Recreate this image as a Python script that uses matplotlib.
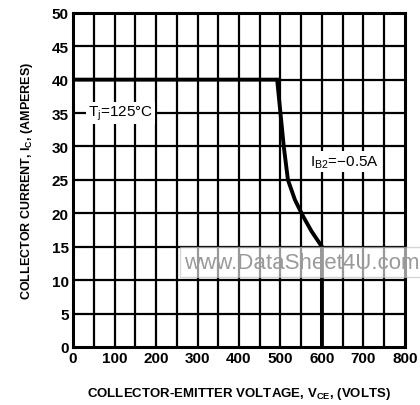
import matplotlib
matplotlib.use('Agg')
import matplotlib.pyplot as plt

plt.rcParams['font.family'] = ['Liberation Sans', 'DejaVu Sans']
plt.rcParams['mathtext.fontset'] = 'custom'
plt.rcParams['mathtext.rm'] = 'Liberation Sans'
plt.rcParams['mathtext.bf'] = 'Liberation Sans:bold'

# RBSOA curve
vce = [0, 492, 500, 508, 518, 535, 555, 575, 600, 600]
ic = [40, 40, 35, 30, 25, 22, 19.5, 17.3, 15, 0]

x_ticks = [0, 100, 200, 300, 400, 500, 600, 700, 800]
x_grid = [50, 100, 150, 200, 250, 300, 350, 400, 450, 500, 550, 600, 650, 700, 750]
y_grid = [5, 10, 15, 20, 25, 30, 35, 40, 45]
y_ticks = [0, 5, 10, 15, 20, 25, 30, 35, 40, 45, 50]

fig, ax = plt.subplots(figsize=(4.2, 4.06), dpi=100)
fig.subplots_adjust(left=0.174, right=0.964, bottom=0.143, top=0.966)

ax.set_xlim(0, 800)
ax.set_ylim(0, 50)

# grid drawn by hand (one line every 50 V, every 5 A)
for v in x_grid:
    ax.plot([v, v], [0, 50], color='black', linewidth=1.6, zorder=2)
for a in y_grid:
    ax.plot([0, 800], [a, a], color='black', linewidth=1.6, zorder=2)

ax.plot(vce, ic, color='black', lw=2.8, solid_joinstyle='miter', zorder=3)

ax.set_xticks(x_ticks)
ax.set_yticks(y_ticks)
ax.tick_params(length=0, pad=3, labelsize=11)
for lab in ax.get_xticklabels() + ax.get_yticklabels():
    lab.set_fontweight('bold')
for s in ax.spines.values():
    s.set_linewidth(2.2)

ax.set_xlabel(r'COLLECTOR-EMITTER VOLTAGE, V$_\mathbf{CE}$, (VOLTS)',
              fontsize=9.5, fontweight='bold', labelpad=14)
ax.set_ylabel(r'COLLECTOR CURRENT, I$_\mathbf{C}$, (AMPERES)',
              fontsize=9, fontweight='bold', labelpad=12)

ax.text(115, 35, r'T$_\mathregular{j}$=125°C', fontsize=11, ha='center', va='center',
        bbox=dict(facecolor='white', edgecolor='none', pad=1.5), zorder=4)
ax.text(655, 27.8, r'I$_\mathregular{B2}$=$-$0.5A', fontsize=11, ha='center', va='center',
        bbox=dict(facecolor='white', edgecolor='none', pad=1.5), zorder=4)

# watermark from the scanned source
fig.text(0.438, 0.352, 'www.DataSheet4U.com', fontsize=16, color='#9a9a9a',
         va='center', ha='left',
         bbox=dict(facecolor='white', alpha=0.6, edgecolor='#bbbbbb', pad=3), zorder=10)

fig.savefig('out.png', dpi=100)
